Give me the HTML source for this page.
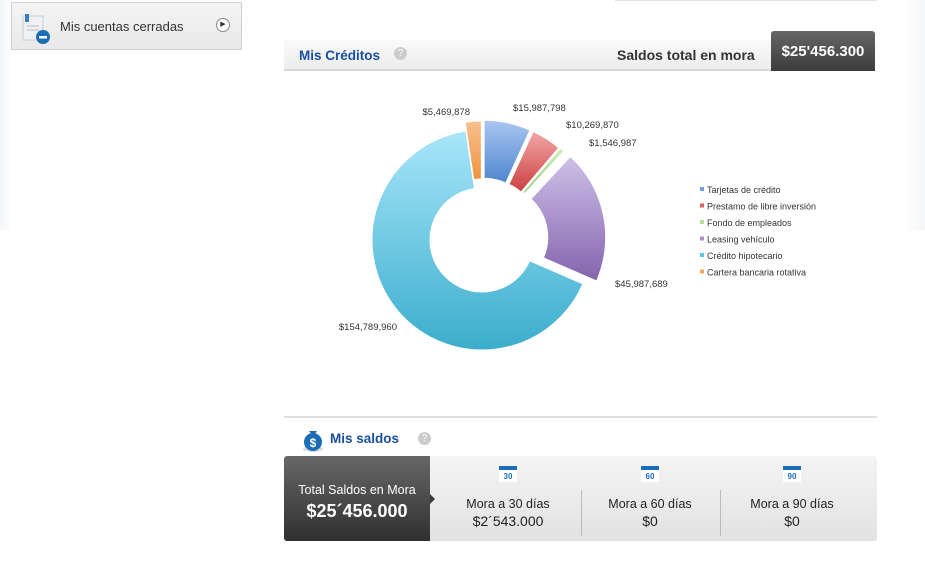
<!DOCTYPE html>
<html><head><meta charset="utf-8"><style>
body{margin:0;width:925px;height:584px;background:#fff;font-family:"Liberation Sans",sans-serif;position:relative;overflow:hidden}
.abs{position:absolute}
</style></head><body>
<div class="abs" style="left:0;top:0;width:12px;height:230px;background:linear-gradient(90deg,#f3f5f7,#fff)"></div>
<div class="abs" style="left:905px;top:0;width:20px;height:230px;background:linear-gradient(90deg,#fff,#f3f5f7)"></div>
<div class="abs" style="left:11px;top:2px;width:229px;height:46px;background:linear-gradient(#f4f4f4,#e9e9e9);border:1px solid #d0d0d0">
 <svg class="abs" style="left:9px;top:9px" width="30" height="32"><rect x="2" y="4" width="20" height="24" fill="#eef1f4" stroke="#c8ccd0"/><rect x="4" y="2" width="4" height="8" fill="#3a7dc0"/><line x1="6" y1="14" x2="18" y2="14" stroke="#bbb"/><line x1="6" y1="18" x2="18" y2="18" stroke="#bbb"/><circle cx="22" cy="25" r="7" fill="#1b6db5"/><rect x="18" y="24" width="8" height="2.5" fill="#fff"/></svg>
 <span class="abs" style="left:48px;top:16px;font-size:13px;color:#333">Mis cuentas cerradas</span>
 <div class="abs" style="left:204px;top:15px;width:12px;height:12px;border:1px solid #888;border-radius:50%;background:#fff;font-size:7px;text-align:center;line-height:12px;color:#333">▶</div>
</div>
<div class="abs" style="left:615px;top:0;width:262px;height:1px;background:#e4e4e4"></div>

<div class="abs" style="left:284px;top:40px;width:591px;height:29px;background:linear-gradient(#fafafa,#ececec);border-bottom:2px solid #d8d8d8">
 <span class="abs" style="left:15px;top:8px;font-size:13.5px;font-weight:bold;color:#1a4fa0">Mis Créditos</span>
 <div class="abs" style="left:110px;top:7px;width:13px;height:13px;border-radius:50%;background:#ccc;color:#fff;font-size:10px;text-align:center;line-height:13px">?</div>
 <span class="abs" style="left:333px;top:7px;font-size:14px;font-weight:bold;color:#333">Saldos total en mora</span>
</div>
<div class="abs" style="left:771px;top:31px;width:104px;height:40px;background:linear-gradient(#666,#3c3c3c);border-radius:3px 3px 0 0;color:#fff;font-size:15px;font-weight:bold;text-align:center;line-height:42px">$25'456.300</div>

<svg class="abs" style="left:0;top:0" width="925" height="400" id="chart">
<defs>
<linearGradient id="g0" x1="0" y1="0" x2="0" y2="1"><stop offset="0" stop-color="#a9c6f0"/><stop offset="1" stop-color="#4f86cf"/></linearGradient>
<linearGradient id="g1" x1="0" y1="0" x2="0" y2="1"><stop offset="0" stop-color="#f3a6a6"/><stop offset="1" stop-color="#cc4040"/></linearGradient>
<linearGradient id="g2" x1="0" y1="0" x2="0" y2="1"><stop offset="0" stop-color="#d6f0c0"/><stop offset="1" stop-color="#8cc870"/></linearGradient>
<linearGradient id="g3" x1="0" y1="0" x2="0" y2="1"><stop offset="0" stop-color="#cfc0e8"/><stop offset="1" stop-color="#8364ad"/></linearGradient>
<linearGradient id="g4" x1="0" y1="0" x2="0" y2="1"><stop offset="0" stop-color="#a8e6fa"/><stop offset="1" stop-color="#3badcc"/></linearGradient>
<linearGradient id="g5" x1="0" y1="0" x2="0" y2="1"><stop offset="0" stop-color="#f8c090"/><stop offset="1" stop-color="#ef9440"/></linearGradient>
</defs>
</svg>

<div class="abs" style="left:284px;top:416px;width:593px;height:2px;background:#e0e0e0"></div>
<svg class="abs" style="left:301px;top:427px" width="24" height="26"><ellipse cx="12" cy="22" rx="10" ry="3" fill="#ddd"/><circle cx="12" cy="15" r="9" fill="#1b6db5"/><path d="M8 4 L16 4 L13 8 L11 8Z" fill="#1b6db5"/><text x="12" y="20" font-size="12" font-weight="bold" fill="#fff" text-anchor="middle" font-family="Liberation Sans">$</text></svg>
<span class="abs" style="left:330px;top:431px;font-size:13.5px;font-weight:bold;color:#1a4fa0">Mis saldos</span>
<div class="abs" style="left:418px;top:432px;width:13px;height:13px;border-radius:50%;background:#ccc;color:#fff;font-size:10px;text-align:center;line-height:13px">?</div>

<div class="abs" style="left:284px;top:456px;width:593px;height:85px;background:linear-gradient(#f4f4f4,#e2e2e2);border-radius:3px">
 <div class="abs" style="left:0;top:0;width:146px;height:85px;background:linear-gradient(#676767,#303030);border-radius:3px 0 0 3px;color:#fff;text-align:center">
  <div style="margin-top:27px;font-size:12.5px">Total Saldos en Mora</div>
  <div style="margin-top:4px;font-size:18px;font-weight:bold">$25´456.000</div>
 </div>
 <div class="abs" style="left:146px;top:38px;width:0;height:0;border-top:5px solid transparent;border-bottom:5px solid transparent;border-left:5px solid #3c3c3c"></div>
 <div class="abs" style="left:297px;top:34px;width:1px;height:46px;background:#bbb"></div>
 <div class="abs" style="left:436px;top:34px;width:1px;height:46px;background:#bbb"></div>
</div>
<div id="mora"></div>

<script>
const categories=["Tarjetas de crédito","Prestamo de libre inversión","Fondo de empleados","Leasing vehículo","Crédito hipotecario","Cartera bancaria rotativa"];
const values=[15987798,10269870,1546987,45987689,154789960,5469878];
const valueLabels=["$15,987,798","$10,269,870","$1,546,987","$45,987,689","$154,789,960","$5,469,878"];
const explode=[10,10,11,14,0,9];
const legendColors=["#6f9ee0","#e06060","#b5df9c","#a890cc","#5cc4e2","#f3a55c"];
const moraLabels=["Mora a 30 días","Mora a 60 días","Mora a 90 días"];
const moraValues=["$2´543.000","$0","$0"];
const moraDays=["30","60","90"];

const NS="http://www.w3.org/2000/svg";
const svg=document.getElementById('chart');
const cx=482,cy=240,R=110,r=52;
const total=values.reduce((a,b)=>a+b,0);
function pt(a,rad,ox,oy){return [cx+ox+rad*Math.sin(a),cy+oy-rad*Math.cos(a)];}
let acc=0;
const labelPos=[[513,111,'start'],[566,128,'start'],[589,146,'start'],[615,287,'start'],[397,330,'end'],[470,115,'end']];
values.forEach((v,i)=>{
 const a0=acc/total*2*Math.PI; acc+=v; const a1=acc/total*2*Math.PI;
 const m=(a0+a1)/2, ox=explode[i]*Math.sin(m), oy=-explode[i]*Math.cos(m);
 const p0=pt(a0,R,ox,oy),p1=pt(a1,R,ox,oy),q1=pt(a1,r,ox,oy),q0=pt(a0,r,ox,oy);
 const lg=(a1-a0)>Math.PI?1:0;
 const path=document.createElementNS(NS,'path');
 path.setAttribute('d',`M${p0[0]},${p0[1]} A${R},${R} 0 ${lg} 1 ${p1[0]},${p1[1]} L${q1[0]},${q1[1]} A${r},${r} 0 ${lg} 0 ${q0[0]},${q0[1]}Z`);
 path.setAttribute('fill',`url(#g${i})`);
 path.setAttribute('stroke','#fff');path.setAttribute('stroke-width','1');
 
 
 svg.appendChild(path);
 const t=document.createElementNS(NS,'text');
 const lp=labelPos[i];
 t.setAttribute('x',lp[0]);t.setAttribute('y',lp[1]);t.setAttribute('text-anchor',lp[2]);
 t.setAttribute('font-size','9.5');t.setAttribute('fill','#333');t.setAttribute('font-family','Liberation Sans');
 t.textContent=valueLabels[i];
 
 
 svg.appendChild(t);
});
categories.forEach((c,i)=>{
 const y=193+i*16.5;
 const s=document.createElementNS(NS,'rect');
 s.setAttribute('x',700);s.setAttribute('y',y-6);s.setAttribute('width',4);s.setAttribute('height',4);s.setAttribute('fill',legendColors[i]);
 
 
 svg.appendChild(s);
 const t=document.createElementNS(NS,'text');
 t.setAttribute('x',707);t.setAttribute('y',y);t.setAttribute('font-size','9');t.setAttribute('fill','#333');t.setAttribute('font-family','Liberation Sans');
 t.textContent=c;
 
 
 svg.appendChild(t);
});
const mora=document.getElementById('mora');
moraLabels.forEach((l,i)=>{
 const d=document.createElement('div');
 d.className='abs';
 d.style.cssText=`left:${437+i*142}px;top:466px;width:142px;text-align:center;color:#222`;
 d.innerHTML=`<div style="display:inline-block;width:18px;height:16px;background:#fff;border-top:4px solid #1b6db5;font-size:8px;font-weight:bold;color:#1b6db5;line-height:14px;box-sizing:border-box">${moraDays[i]}</div><div style="margin-top:13px;font-size:12.5px">${l}</div><div style="margin-top:2px;font-size:14px">${moraValues[i]}</div>`;
 
 
 mora.appendChild(d);
});
</script>
</body></html>
